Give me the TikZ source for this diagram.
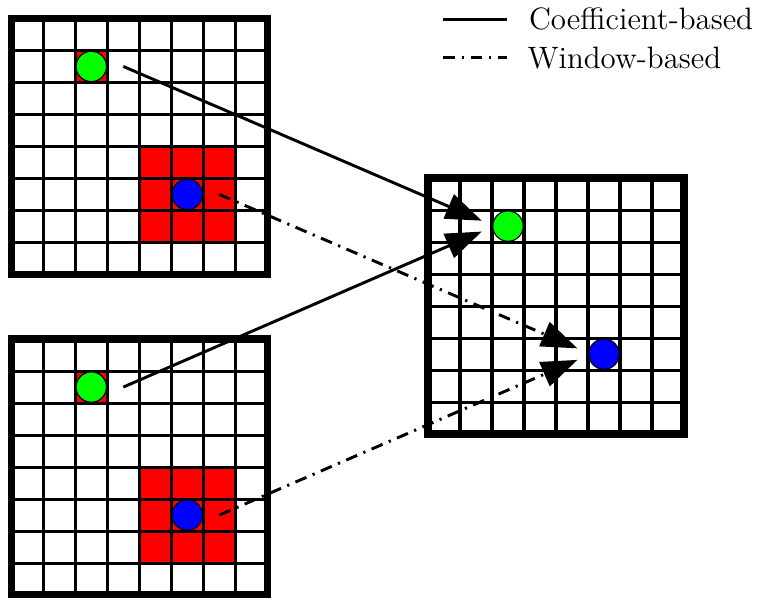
\documentclass[tikz,border=0pt]{standalone}
\usepackage{tikz}
\usetikzlibrary{arrows.meta, calc}
\definecolor{pxred}{HTML}{FF0000}
\definecolor{pxgreen}{HTML}{00FF00}
\definecolor{pxblue}{HTML}{0000FF}

\begin{document}
\begin{tikzpicture}[x=0.5cm, y=0.5cm,
  cellline/.style={line width=1.4pt},
  frame/.style={line width=3.3pt},
  pixel/.style={circle, draw, line width=0.5pt, inner sep=0pt, minimum size=13.5pt},
  coefline/.style={line width=1.3pt},
  winline/.style={coefline, dash pattern=on 5.3pt off 3pt on 1pt off 3pt},
  tip/.style={-{Triangle[length=16pt, width=11.5pt]}},
  legend/.style={inner sep=0pt, font=\fontsize{13.75}{16}\selectfont}
]
\useasboundingbox (0,0) rectangle (23.656,18.656);
% Three 8x8 blocks: two sources (with red windows) and one target
\foreach \gx/\gy/\nm/\hot in {0.353/10.08/A/1, 0.353/0.06/B/1, 13.375/5.09/C/0} {
  \begin{scope}[shift={(\gx,\gy)}]
    \ifnum\hot=1
      \fill[pxred] (2,6) rectangle (3,7);
      \fill[pxred] (4,1) rectangle (7,4);
    \fi
    \draw[cellline, step=0.5cm] (0,0) grid (8,8);
    \draw[frame] (0,0) rectangle (8,8);
    \node[pixel, fill=pxgreen] (g\nm) at (2.5,6.5) {};
    \node[pixel, fill=pxblue] (b\nm) at (5.5,2.5) {};
  \end{scope}
}
% Coefficient-based mapping
\draw[coefline, tip] ($(gA)+(1,0)$) -- ($(gC)+(-0.82,0.17)$);
\draw[coefline, tip] ($(gB)+(1,0)$) -- ($(gC)+(-0.82,-0.17)$);
% Window-based mapping
\draw[winline, tip] ($(bA)+(1,0)$) -- ($(bC)+(-0.83,0.18)$);
\draw[winline, tip] ($(bB)+(1,0)$) -- ($(bC)+(-0.83,-0.18)$);
% Legend
\node[legend, anchor=base west] (coefL) at (16.52,17.72) {Coefficient-based};
\node[legend, anchor=base west] (winL) at (16.47,16.52) {Window-based};
\draw[coefline] ($(coefL.west)+(-2.68,0)$) -- ++(2.01,0);
\draw[winline] ($(winL.west)+(-2.63,0)$) -- ++(2.01,0);
\end{tikzpicture}
\end{document}
